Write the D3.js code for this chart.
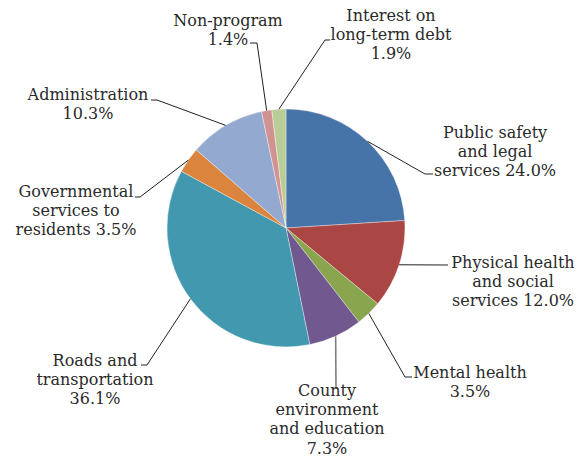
<!DOCTYPE html>
<html>
<head>
<meta charset="utf-8">
<script src="https://cdn.jsdelivr.net/npm/d3@7"></script>
<style>
  body { margin: 0; background: #fff; }
  svg text { font-family: "DejaVu Serif", serif; font-size: 16px; fill: #2a2a2a; }
</style>
</head>
<body>
<svg id="chart" width="586" height="460"></svg>
<script>
// chart data (clockwise from 12 o'clock)
var categories = ["Public safety and legal services", "Physical health and social services",
                  "Mental health", "County environment and education", "Roads and transportation",
                  "Governmental services to residents", "Administration", "Non-program",
                  "Interest on long-term debt"];
var shares = [24.0, 12.0, 3.5, 7.3, 36.1, 3.5, 10.3, 1.4, 1.9];
var labelLines = [
  ["Public safety", "and legal", "services 24.0%"],
  ["Physical health", "and social", "services 12.0%"],
  ["Mental health", "3.5%"],
  ["County", "environment", "and education", "7.3%"],
  ["Roads and", "transportation", "36.1%"],
  ["Governmental", "services to", "residents 3.5%"],
  ["Administration", "10.3%"],
  ["Non-program", "1.4%"],
  ["Interest on", "long-term debt", "1.9%"]
];
var colors = ["#4673a8", "#aa4744", "#89a54e", "#71598f", "#4298af",
              "#db843d", "#93a9cf", "#d19392", "#b9cd96"];

// label placement (layout only)
var labelPos = [
  {x: 495, y: 138, knee: [425, 174], end: [433, 174]},
  {x: 513, y: 268, knee: null, end: [448, 265]},
  {x: 470, y: 378, knee: [405, 377], end: [412, 377]},
  {x: 327, y: 396, knee: null, end: [336, 389]},
  {x: 95,  y: 366, knee: [147, 365], end: [141, 365]},
  {x: 76,  y: 197, knee: [140, 197], end: [135, 197]},
  {x: 88,  y: 100, knee: [157, 100], end: [151, 100]},
  {x: 228, y: 26,  knee: [257, 43],  end: [250, 43]},
  {x: 391, y: 21,  knee: [325, 40],  end: [330, 40]}
];
var lineGap = 19.2;

var svg = d3.select("#chart");
var cx = 286, cy = 228, radius = 119;

var pie = d3.pie().sort(null).value(function(d){ return d; });
var arcs = pie(shares);
var arc = d3.arc().innerRadius(0).outerRadius(radius);

var g = svg.append("g").attr("transform", "translate(" + cx + "," + cy + ")");

g.selectAll("path.slice")
  .data(arcs)
  .enter().append("path")
  .attr("class", "slice")
  .attr("d", arc)
  .attr("fill", function(d, i){ return colors[i]; })
  .attr("stroke", "#fff")
  .attr("stroke-opacity", 0.6)
  .attr("stroke-width", 0.6);

// leader lines from the arc midpoint
svg.selectAll("polyline.leader")
  .data(arcs)
  .enter().append("polyline")
  .attr("class", "leader")
  .attr("fill", "none")
  .attr("stroke", function(d, i){ return i == 3 ? "#7f7f7f" : "#222"; })
  .attr("stroke-width", function(d, i){ return i == 3 ? 1.6 : 1; })
  .attr("points", function(d, i){
    var a = (d.startAngle + d.endAngle) / 2;
    var p0 = [cx + radius * Math.sin(a), cy - radius * Math.cos(a)];
    var lp = labelPos[i];
    var pts = [p0];
    if (lp.knee) pts.push(lp.knee);
    pts.push(lp.end);
    return pts.map(function(p){ return p.join(","); }).join(" ");
  });

var labels = svg.selectAll("text.lbl")
  .data(labelLines)
  .enter().append("text")
  .attr("class", "lbl")
  .attr("text-anchor", "middle");

labels.each(function(lines, i){
  var t = d3.select(this);
  lines.forEach(function(s, k){
    t.append("tspan")
      .attr("x", labelPos[i].x)
      .attr("y", labelPos[i].y + k * lineGap)
      .text(s);
  });
});
</script>
</body>
</html>
